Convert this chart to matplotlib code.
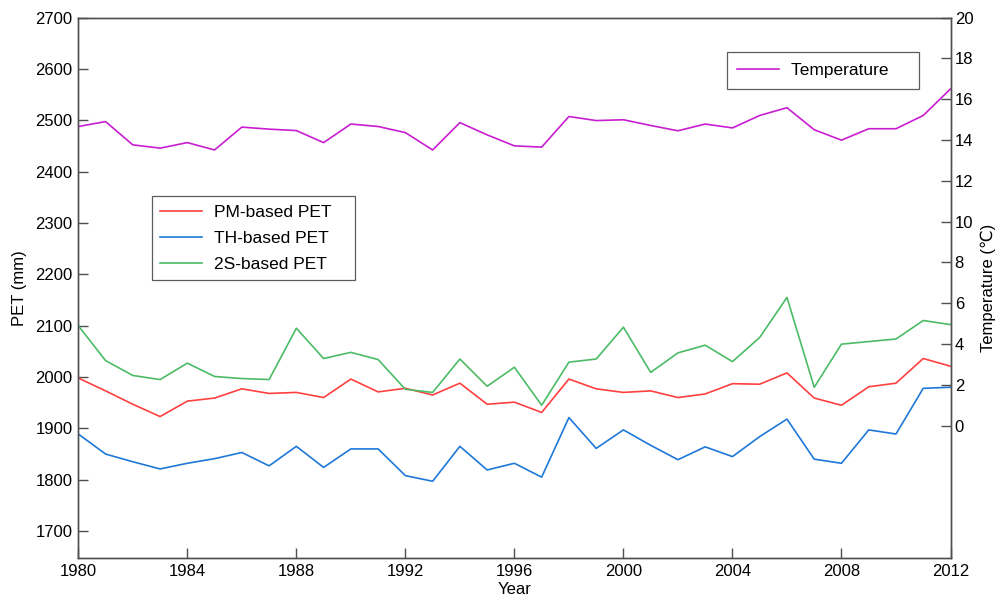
import numpy as np
import matplotlib
matplotlib.use("Agg")
import matplotlib.pyplot as plt

plt.rcParams['font.family'] = ['Liberation Sans', 'DejaVu Sans']

years = list(range(1980, 2013))

pet_pm = [1998, 1973, 1947, 1923, 1953, 1959, 1977, 1968, 1970, 1960,
          1996, 1971, 1978, 1965, 1988, 1947, 1951, 1931, 1996, 1977,
          1970, 1973, 1960, 1967, 1987, 1986, 2008, 1959, 1945, 1981,
          1988, 2036, 2021]

pet_th = [1889, 1850, 1835, 1821, 1832, 1841, 1853, 1827, 1865, 1824,
          1860, 1860, 1808, 1797, 1865, 1819, 1832, 1805, 1921, 1861,
          1897, 1867, 1839, 1864, 1845, 1884, 1918, 1840, 1832, 1897,
          1889, 1978, 1980]

pet_2s = [2100, 2032, 2003, 1995, 2027, 2001, 1997, 1995, 2095, 2036,
          2048, 2034, 1976, 1970, 2035, 1982, 2019, 1945, 2029, 2035,
          2097, 2009, 2047, 2062, 2030, 2077, 2155, 1980, 2064, 2069,
          2074, 2110, 2102]

temperature = [14.66, 14.90, 13.76, 13.60, 13.87, 13.51, 14.63, 14.53, 14.46, 13.87,
               14.78, 14.66, 14.36, 13.51, 14.85, 14.25, 13.71, 13.65, 15.15, 14.95,
               14.99, 14.71, 14.45, 14.78, 14.59, 15.20, 15.58, 14.50, 13.99, 14.55,
               14.55, 15.20, 16.50]

year_ticks = list(range(1980, 2013, 4))
pet_ticks = list(range(1700, 2701, 100))
temp_ticks = list(range(0, 21, 2))

c_pm = '#FF4040'
c_th = '#1F78D8'
c_2s = '#4CBB66'
c_t = '#C81ED0'
spine_c = '#505050'

fig = plt.figure(figsize=(10, 5.98), dpi=100)
ax = fig.add_axes([0.0783, 0.0664, 0.8722, 0.9043])
ax2 = ax.twinx()

l1, = ax.plot(years, pet_pm, color=c_pm, lw=1.2, label='PM-based PET   ')
l2, = ax.plot(years, pet_th, color=c_th, lw=1.2, label='TH-based PET   ')
l3, = ax.plot(years, pet_2s, color=c_2s, lw=1.2, label='2S-based PET   ')
l4, = ax2.plot(years, temperature, color=c_t, lw=1.2, label='Temperature    ')

ax.set_xlim(1980, 2012)
ax.set_ylim(1647, 2700)
ax2.set_ylim(-6.5, 20)

ax.set_xticks(year_ticks)
ax.set_yticks(pet_ticks)
ax2.set_yticks(temp_ticks)

for a in (ax, ax2):
    for s in a.spines.values():
        s.set_color(spine_c)
        s.set_linewidth(1.0)
    a.tick_params(direction='in', length=7, width=1.0, color=spine_c,
                  labelsize=12, labelcolor='black')
ax.tick_params(axis='y', pad=4)
ax.tick_params(axis='x', pad=4)
ax2.tick_params(axis='y', pad=3)

ax.set_xlabel('Year', fontsize=12, labelpad=2)
ax.set_ylabel('PET (mm)', fontsize=12, labelpad=6)
ax2.set_ylabel('Temperature (℃)', fontsize=12, labelpad=5)

leg1 = ax.legend(handles=[l1, l2, l3], loc='upper left',
                 bbox_to_anchor=(0.0842, 0.670), borderaxespad=0,
                 fontsize=12.5, frameon=True, fancybox=False,
                 handlelength=2.4, handletextpad=0.7, labelspacing=0.62,
                 borderpad=0.5)
leg1.get_frame().set_edgecolor('#333333')
leg1.get_frame().set_linewidth(0.9)

leg2 = ax2.legend(handles=[l4], loc='upper left',
                  bbox_to_anchor=(0.7434, 0.936), borderaxespad=0,
                  fontsize=12.5, frameon=True, fancybox=False,
                  handlelength=2.4, handletextpad=0.7, borderpad=0.62)
leg2.get_frame().set_edgecolor('#333333')
leg2.get_frame().set_linewidth(0.9)

fig.savefig('out.png', dpi=100)
